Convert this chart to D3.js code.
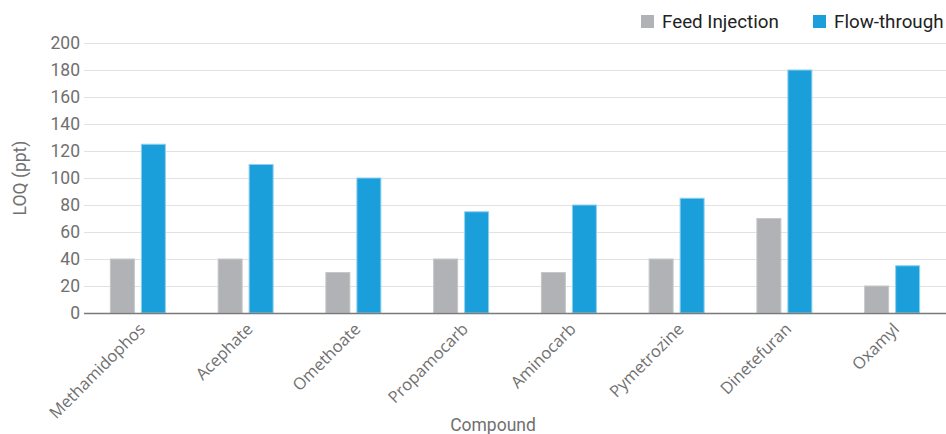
<!DOCTYPE html>
<html><head><meta charset="utf-8">
<script src="https://cdn.jsdelivr.net/npm/d3@7"></script>
<style>body{margin:0;background:#fff;}svg{display:block;}</style>
</head><body><svg id="c" width="946" height="434"></svg>
<script>
const categories = ["Methamidophos","Acephate","Omethoate","Propamocarb","Aminocarb","Pymetrozine","Dinetefuran","Oxamyl"];
const feedInjection = [40,40,30,40,30,40,70,20];
const flowThrough = [125,110,100,75,80,85,180,35];
const seriesNames = ["Feed Injection","Flow-through"];
const yTicks = [0,20,40,60,80,100,120,140,160,180,200];

const svg = d3.select("#c");
const m = {l:84, r:946, t:43, b:313};
const x = d3.scaleBand().domain(categories).range([m.l, m.r]).paddingInner(0).paddingOuter(0);
const y = d3.scaleLinear().domain([0,200]).range([m.b, m.t]);
const colors = ["#b1b2b5","#1b9fdb"];
const strokes = ["#c6c7c9","#8fd0ef"];

// gridlines
svg.append("g").selectAll("line").data(yTicks.filter(d=>d>0)).join("line")
  .attr("x1", m.l).attr("x2", m.r).attr("y1", d=>y(d)+0.5).attr("y2", d=>y(d)+0.5)
  .attr("stroke","#e2e2e2").attr("stroke-width",1);

// y labels
svg.append("g").selectAll("text").data(yTicks).join("text")
  .attr("x", 80).attr("y", d=>y(d)).attr("dy","0.35em").attr("text-anchor","end")
  .attr("font-family","Roboto").attr("font-size",17.5).attr("fill","#707070").text(d=>d);

const data = [feedInjection, flowThrough];
const bw = 24, gap = 7;
data.forEach((vals,si)=>{
  svg.append("g").selectAll("rect").data(vals).join("rect")
    .attr("x",(d,i)=> x(categories[i]) + x.bandwidth()/2 - gap/2 - bw + si*(bw+gap))
    .attr("y", d=>y(d)).attr("width", bw).attr("height", d=>y(0)-y(d))
    .attr("fill", colors[si]).attr("stroke", strokes[si]).attr("stroke-width",1);
});

// zero axis
svg.append("line").attr("x1",m.l).attr("x2",m.r).attr("y1",y(0)+0.5).attr("y2",y(0)+0.5)
  .attr("stroke","#7a7a7a").attr("stroke-width",1.5);

// x labels
svg.append("g").selectAll("text").data(categories).join("text")
  .attr("transform", d=>`translate(${x(d)+x.bandwidth()/2+4},${y(0)+13}) rotate(-45)`)
  .attr("text-anchor","end").attr("dy","0.35em")
  .attr("font-family","Open Sans").attr("font-size",16.5).attr("fill","#707070").text(d=>d);

// axis titles
svg.append("text").attr("transform",`translate(26,178) rotate(-90)`).attr("text-anchor","middle")
  .attr("font-family","Roboto").attr("font-size",17.5).attr("fill","#707070").text("LOQ (ppt)");
svg.append("text").attr("x",493).attr("y",431).attr("text-anchor","middle")
  .attr("font-family","Roboto").attr("font-size",17.5).attr("fill","#707070").text("Compound");

// legend
const lg = [{x:641},{x:813}];
seriesNames.forEach((n,i)=>{
  svg.append("rect").attr("x",lg[i].x).attr("y",15).attr("width",13).attr("height",13).attr("fill",colors[i]);
  svg.append("text").attr("x",lg[i].x+21).attr("y",28).attr("font-family","Roboto").attr("font-size",18.8)
    .attr("fill","#222").text(n);
});
</script></body></html>
